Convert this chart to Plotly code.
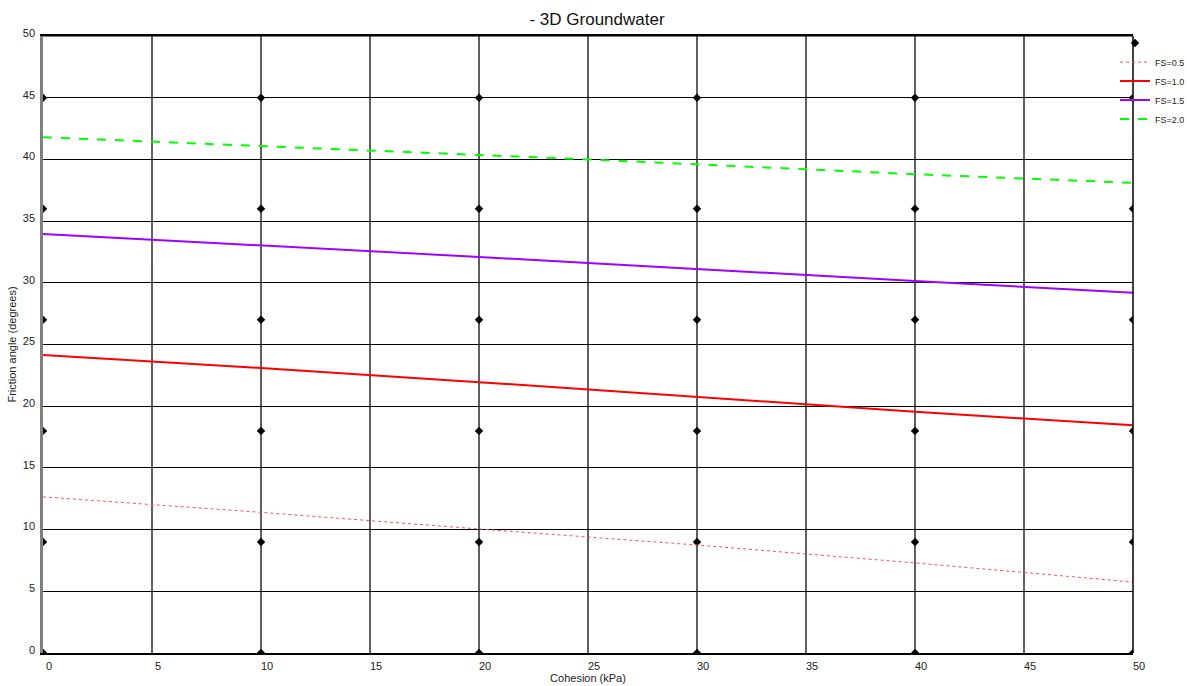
import plotly.graph_objects as go

cohesion = [0, 10, 20, 25, 30, 40, 50]
fs05 = [12.65, 11.4, 10.05, 9.4, 8.75, 7.3, 5.75]
fs10 = [24.15, 23.1, 21.95, 21.35, 20.75, 19.55, 18.45]
fs15 = [33.95, 33.05, 32.1, 31.6, 31.1, 30.15, 29.2]
fs20 = [41.8, 41.1, 40.4, 40.0, 39.6, 38.8, 38.1]

grid_x = [0, 10, 20, 30, 40, 50]
grid_y = [0, 9, 18, 27, 36, 45]
pts_x = [x for x in grid_x for _ in grid_y]
pts_y = [y for _ in grid_x for y in grid_y]

fig = go.Figure()
fig.add_trace(go.Scatter(x=pts_x, y=pts_y, mode="markers", name="",
                         marker=dict(symbol="diamond", size=6.5, color="black")))
fig.add_trace(go.Scatter(x=cohesion, y=fs05, mode="lines", name="FS=0.5",
                         line=dict(color="#ff5050", width=1, dash="dot")))
fig.add_trace(go.Scatter(x=cohesion, y=fs10, mode="lines", name="FS=1.0",
                         line=dict(color="#ff0000", width=2)))
fig.add_trace(go.Scatter(x=cohesion, y=fs15, mode="lines", name="FS=1.5",
                         line=dict(color="#a000ff", width=2)))
fig.add_trace(go.Scatter(x=cohesion, y=fs20, mode="lines", name="FS=2.0",
                         line=dict(color="#00ff00", width=2, dash="dash")))

fig.update_layout(
    width=1187, height=686,
    margin=dict(l=43, r=54, t=36, b=33, autoexpand=False),
    paper_bgcolor="white", plot_bgcolor="white",
    font=dict(family="Liberation Sans, Arial, sans-serif", color="#222", size=11),
    title=dict(text="- 3D Groundwater", x=0.503, xanchor="center", y=0.981, yanchor="top",
               font=dict(size=17, color="#111")),
    showlegend=True,
    legend=dict(x=0.9835, xanchor="left", y=1.012, yanchor="top", font=dict(size=9),
                itemwidth=30, tracegroupgap=0, bgcolor="rgba(0,0,0,0)"),
    xaxis=dict(range=[0, 50], tickvals=list(range(0, 51, 5)), showgrid=True,
               gridcolor="#606060", gridwidth=1.5, zeroline=False,
               showline=True, linecolor="black", linewidth=1.5, mirror=True,
               ticks="", ticklabelstandoff=2, ticklabelshift=6,
               title=dict(text="Cohesion (kPa)", font=dict(size=11), standoff=2)),
    yaxis=dict(range=[0, 50], tickvals=list(range(0, 51, 5)), showgrid=True,
               gridcolor="black", gridwidth=1, zeroline=False,
               showline=True, linecolor="#808080", linewidth=2.5, mirror=False,
               ticks="", ticklabelstandoff=3, ticklabelshift=-3,
               title=dict(text="Friction angle (degrees)", font=dict(size=11), standoff=4)),
)
fig.add_shape(type="line", xref="paper", yref="paper", x0=0, x1=1, y0=1, y1=1,
              line=dict(color="black", width=1))
fig.add_shape(type="line", xref="paper", yref="paper", x0=1, x1=1, y0=0, y1=1,
              line=dict(color="black", width=1.5))

fig.write_html("out.html", config={"displayModeBar": False},
               post_script="document.body.style.margin='0';document.body.style.overflow='hidden';")
